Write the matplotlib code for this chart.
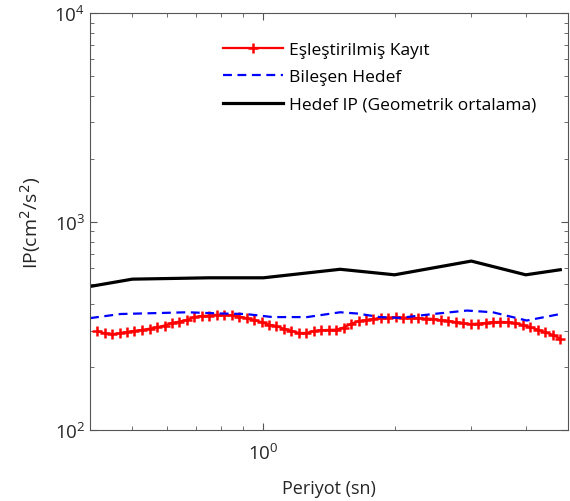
import matplotlib
matplotlib.use("Agg")
import matplotlib.pyplot as plt

plt.rcParams['font.family'] = ['Open Sans', 'DejaVu Sans']

# eşleştirilmiş kayıt (red), log-spaced periods
per_kayit = [0.415, 0.432, 0.450, 0.468, 0.487, 0.506, 0.526, 0.548, 0.570, 0.593,
             0.617, 0.641, 0.667, 0.694, 0.722, 0.751, 0.781, 0.813, 0.846, 0.880,
             0.915, 0.952, 0.990, 1.030, 1.071, 1.114, 1.159, 1.206, 1.254, 1.305,
             1.357, 1.412, 1.469, 1.528, 1.590, 1.654, 1.720, 1.789, 1.861, 1.936,
             2.014, 2.095, 2.180, 2.267, 2.359, 2.454, 2.552, 2.655, 2.762, 2.874,
             2.989, 3.109, 3.235, 3.364, 3.500, 3.641, 3.787, 3.940, 4.098, 4.264,
             4.435, 4.613, 4.799]
ip_kayit = [298, 291, 288, 291, 295, 299, 302, 306, 311, 317, 326, 331, 337, 348, 352,
            354, 357, 358, 355, 350, 344, 337, 329, 320, 315, 306, 299, 292, 292, 298,
            301, 302, 303, 310, 323, 333, 336, 341, 344, 346, 348, 346, 345, 344, 342,
            341, 336, 334, 329, 325, 322, 324, 326, 329, 330, 329, 325, 319, 311, 303,
            294, 286, 274]

# bileşen hedef (blue dashed)
per_bilesen = [0.40, 0.47, 0.67, 0.80, 0.91, 1.05, 1.26, 1.50, 1.64, 1.85,
               2.06, 2.45, 2.93, 3.36, 4.02, 4.80]
ip_bilesen = [344, 360, 367, 362, 360, 348, 348, 367, 362, 348,
              345, 360, 374, 367, 335, 360]

# hedef IP, geometrik ortalama (black)
per_hedef = [0.4, 0.5, 0.75, 1.0, 1.5, 2.0, 3.0, 4.0, 4.8]
ip_hedef = [488, 529, 537, 537, 590, 555, 646, 555, 587]

fig = plt.figure(figsize=(5.7, 5.02), dpi=100)
ax = fig.add_axes([90/570, 1-431/502, 478/570, 417/502])

ax.plot(per_kayit, ip_kayit, color='red', lw=1.6, marker='+', ms=6.5, mew=1.8,
        label='Eşleştirilmiş Kayıt')
ax.plot(per_bilesen, ip_bilesen, color='blue', lw=1.6, dashes=(4, 2.5),
        label='Bileşen Hedef')
ax.plot(per_hedef, ip_hedef, color='black', lw=2.3,
        label='Hedef IP (Geometrik ortalama)')

ax.set_xscale('log')
ax.set_yscale('log')
ax.set_xlim(0.4, 5.0)
ax.set_ylim(100, 10000)

gray = '#262626'
for s in ax.spines.values():
    s.set_color('#555555')
    s.set_linewidth(0.8)
ax.tick_params(which='both', direction='in', top=True, right=True,
               colors='#555555', labelcolor=gray, labelsize=13.5)
ax.tick_params(which='major', length=5)
ax.tick_params(which='minor', length=3)
ax.tick_params(axis='x', which='major', pad=9)

ax.set_xlabel('Periyot (sn)', fontsize=13, color=gray, labelpad=12)
ax.set_ylabel('IP(cm$^2$/s$^2$)', fontsize=14, color=gray, labelpad=8)

ax.legend(loc='upper left', bbox_to_anchor=(207/570, 1-27/502),
          bbox_transform=fig.transFigure, frameon=False, fontsize=12.5,
          handlelength=3.5, handletextpad=0.3, labelspacing=0.65, numpoints=1)

fig.savefig('out.png', dpi=100)
